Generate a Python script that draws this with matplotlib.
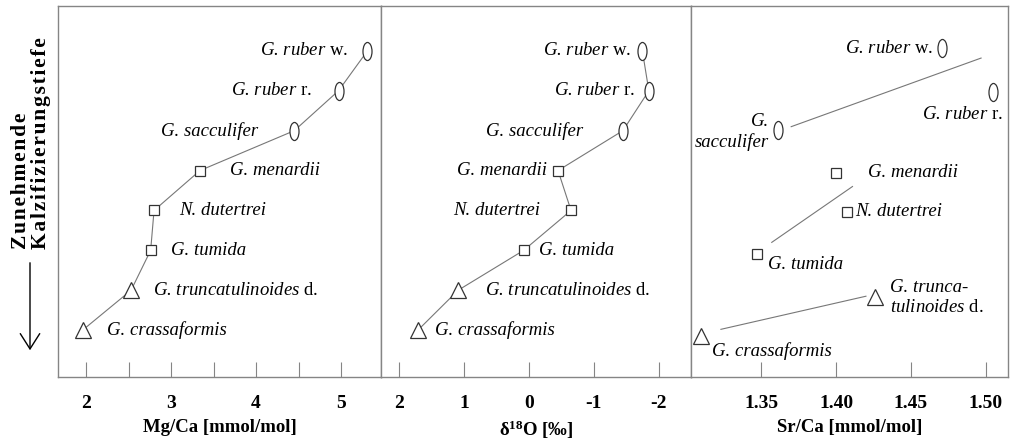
import numpy as np
import matplotlib
matplotlib.use("Agg")
import matplotlib.pyplot as plt
from matplotlib.path import Path
from matplotlib.transforms import Affine2D

plt.rcParams['font.family'] = ['Liberation Serif', 'DejaVu Serif']
plt.rcParams['mathtext.fontset'] = 'custom'
plt.rcParams['mathtext.rm'] = 'Liberation Serif'
plt.rcParams['mathtext.it'] = 'Liberation Serif:italic'
plt.rcParams['mathtext.bf'] = 'Liberation Serif:bold'

# species, ordered by increasing calcification depth
species = ["G. ruber", "G. ruber", "G. sacculifer", "G. menardii",
           "N. dutertrei", "G. tumida", "G. truncatulinoides", "G. crassaformis"]
suffix = ["w.", "r.", "", "", "", "", "d.", ""]
depthRank = [1, 2, 3, 4, 5, 6, 7, 8]
groups = ["o", "o", "o", "s", "s", "s", "t", "t"]

mgCa = [5.31, 4.97, 4.45, 3.34, 2.80, 2.76, 2.53, 1.96]
d18O = [-1.75, -1.85, -1.45, -0.45, -0.65, 0.08, 1.09, 1.71]
srCa = [1.471, 1.505, 1.361, 1.400, 1.407, 1.347, 1.426, 1.310]
srCaRank = [0.93, 2.03, 2.98, 4.05, 5.03, 6.10, 7.18, 8.15]

# Sr/Ca trend lines per group (x0, x1, rank0, rank1)
srTrendX = [[1.370, 1.497], [1.357, 1.411], [1.323, 1.420]]
srTrendY = [[2.90, 1.18], [5.80, 4.40], [7.98, 7.15]]

mgTicks = [2, 3, 4, 5]
d18Ticks = [2, 1, 0, -1, -2]
srTicks = [1.35, 1.40, 1.45, 1.50]

depthTitle = ["Zunehmende", "Kalzifizierungstiefe"]

# label offsets in pixels (dx, dy), ha
mgLab = [(-19, 0, 'right'), (-26, 0, 'right'), (-36, 0, 'right'), (30, 0, 'left'),
         (25, 0, 'left'), (20, 0, 'left'), (22, 0, 'left'), (24, 0, 'left')]
d18Lab = [(-11, 0, 'right'), (-14, 0, 'right'), (-40, 0, 'right'), (-11, 0, 'right'),
          (-31, 0, 'right'), (15, 0, 'left'), (27, 0, 'left'), (17, 0, 'left')]
srLab = [(-9, 0, 'right'), (10, -23, 'right'), (-9, -2, 'right'), (32, 0, 'left'),
         (9, 0, 'left'), (11, -10, 'left'), (15, 0, 'left'), (11, -15, 'left')]
srText = [None, None, "G.\nsacculifer", None, None, None,
          "G. trunca-\ntulinoides $\\mathrm{d.}$", None]

W, H = 1010, 443
fig = plt.figure(figsize=(W / 100, H / 100), dpi=100)

ellipse = Path.unit_circle().transformed(Affine2D().scale(0.5, 1.0))
markerStyle = {"o": dict(marker=ellipse, ms=13),
               "s": dict(marker="s", ms=7.5),
               "t": dict(marker="^", ms=11)}
frameColor = "#858585"
edgeColor = "#333333"
textSize = 13.5


def make_axes(x0, x1):
    bottom, top = 377, 6
    ax = fig.add_axes([x0 / W, 1 - bottom / H, (x1 - x0) / W, (bottom - top) / H])
    ax.set_ylim(9.175, -0.125)
    ax.set_yticks([])
    for s in ax.spines.values():
        s.set_color(frameColor)
        s.set_linewidth(1.0)
    ax.tick_params(axis='x', direction='in', length=11, width=0.8, color=frameColor,
                   pad=13, labelsize=14)
    return ax


def label_for(i):
    name = species[i]
    if suffix[i]:
        return name + " $\\mathrm{" + suffix[i] + "}$"
    return name


def draw_markers(ax, xs, ys):
    for x, y, g in zip(xs, ys, groups):
        ax.plot([x], [y], linestyle='none', mfc='white', mec=edgeColor, mew=0.9,
                zorder=3, **markerStyle[g])


def draw_labels(ax, xs, ys, offsets, texts=None):
    for i, (x, y) in enumerate(zip(xs, ys)):
        dx, dy, ha = offsets[i]
        txt = texts[i] if texts is not None and texts[i] else label_for(i)
        ax.annotate(txt, (x, y), xytext=(dx * 0.72, dy * 0.72), textcoords='offset points',
                    ha=ha, va='center', fontsize=textSize, fontstyle='italic',
                    multialignment=ha)


def finish(ax, ticks, labels, xlabel):
    ax.set_xticks(ticks)
    ax.set_xticklabels(labels, fontweight='bold', fontsize=14)
    ax.set_xlabel(xlabel, fontsize=13.5, fontweight='bold', labelpad=5)


# Mg/Ca panel
ax1 = make_axes(58, 381)
ax1.set_xlim(1.67, 5.47)
ax1.plot(mgCa, depthRank, color="#777777", lw=0.8, zorder=2)
draw_markers(ax1, mgCa, depthRank)
draw_labels(ax1, mgCa, depthRank, mgLab)
ax1.set_xticks(np.arange(2.5, 5.0, 1.0), minor=True)
ax1.tick_params(axis='x', which='minor', direction='in', length=11, width=0.8, color=frameColor)
finish(ax1, mgTicks, [str(t) for t in mgTicks], "Mg/Ca [mmol/mol]")

# d18O panel, reversed scale
ax2 = make_axes(381, 691)
ax2.set_xlim(2.28, -2.5)
ax2.plot(d18O, depthRank, color="#777777", lw=0.8, zorder=2)
draw_markers(ax2, d18O, depthRank)
draw_labels(ax2, d18O, depthRank, d18Lab)
finish(ax2, d18Ticks, [str(t) for t in d18Ticks], "δ$^{\\mathbf{18}}$O [‰]")

# Sr/Ca panel
ax3 = make_axes(691, 1008)
ax3.set_xlim(1.303, 1.515)
for tx, ty in zip(srTrendX, srTrendY):
    ax3.plot(tx, ty, color="#777777", lw=0.8, zorder=2)
draw_markers(ax3, srCa, srCaRank)
draw_labels(ax3, srCa, srCaRank, srLab, srText)
finish(ax3, srTicks, ["%.2f" % t for t in srTicks], "Sr/Ca [mmol/mol]")

# depth axis title (letter-spaced) with arrow
spaced = "\n".join("\u200a".join(word) for word in depthTitle)
fig.text(31 / W, 1 - 249 / H, spaced, rotation=90,
         ha='center', va='bottom', multialignment='left', fontsize=15.5,
         fontweight='bold', linespacing=1.05)
fig.add_artist(matplotlib.patches.FancyArrowPatch(
    (30 / W, 1 - 260 / H), (30 / W, 1 - 353 / H), transform=fig.transFigure,
    arrowstyle='->,head_length=0.55,head_width=0.35', mutation_scale=20,
    color='black', lw=1.0))

fig.savefig("out.png", dpi=100)
